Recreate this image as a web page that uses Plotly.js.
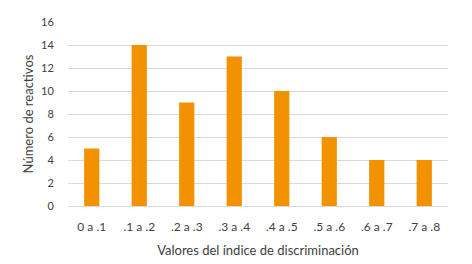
<!DOCTYPE html>
<html><head><meta charset="utf-8">
<script src="https://cdn.plot.ly/plotly-3.0.1.min.js"></script>
<style>html,body{margin:0;padding:0;background:#fff}#c{width:472px;height:264px}</style>
</head><body><div id="c"></div>
<script>
const categories = ["0 a .1", ".1 a .2", ".2 a .3", ".3 a .4", ".4 a .5", ".5 a .6", ".6 a .7", ".7 a .8"];
const values = [5, 14, 9, 13, 10, 6, 4, 4];
const yTicks = [0, 2, 4, 6, 8, 10, 12, 14, 16];

Plotly.newPlot('c', [{
  type: 'bar', x: categories, y: values,
  marker: {color: '#F39200'}, hoverinfo: 'none'
}], {
  width: 472, height: 264,
  margin: {l: 68, r: 24, t: 22, b: 58},
  bargap: 0.68,
  paper_bgcolor: '#fff', plot_bgcolor: '#fff',
  font: {family: 'Lato, "Open Sans", sans-serif', color: '#404040', size: 10},
  xaxis: {
    type: 'category', showgrid: false, zeroline: false, showline: false,
    ticks: 'outside', ticklen: 10, tickcolor: 'rgba(0,0,0,0)', tickfont: {size: 12},
    title: {text: 'Valores del índice de discriminación', font: {size: 13}, standoff: 12}
  },
  yaxis: {
    range: [0, 16], tickvals: yTicks, ticktext: yTicks.map(String),
    showgrid: true, gridcolor: '#d9d9d9', gridwidth: 1,
    zeroline: true, zerolinecolor: '#d9d9d9', zerolinewidth: 1,
    ticks: 'outside', ticklen: 11, tickcolor: 'rgba(0,0,0,0)', tickfont: {size: 11},
    title: {text: 'Número de reactivos', font: {size: 13}, standoff: 4}
  },
  showlegend: false
}, {staticPlot: true, displayModeBar: false});
</script></body></html>
